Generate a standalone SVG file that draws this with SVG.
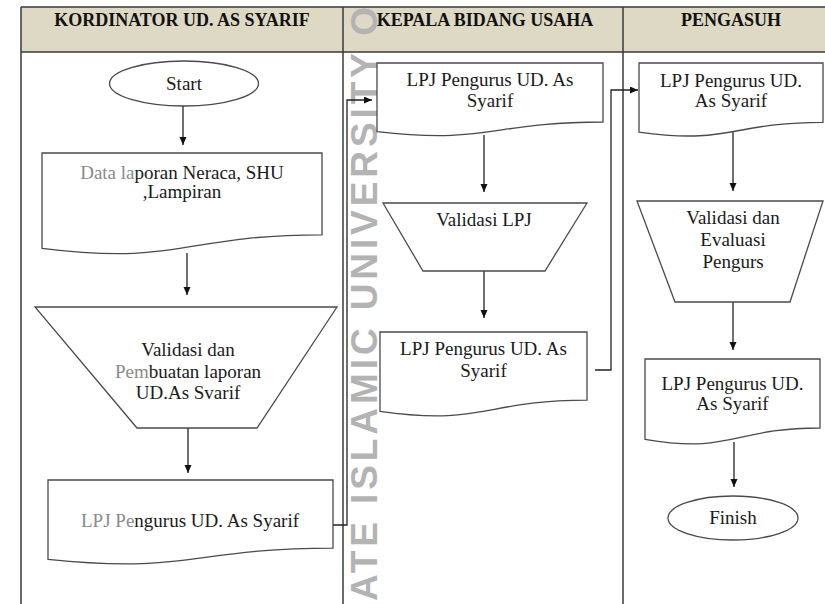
<svg xmlns="http://www.w3.org/2000/svg" width="825" height="604" viewBox="0 0 825 604">
<defs>
<marker id="ah" markerUnits="userSpaceOnUse" markerWidth="9" markerHeight="8" refX="8" refY="3.5" orient="auto">
<path d="M0,0 L8,3.5 L0,7 Z" fill="#111"/>
</marker>
<style>
.lane{stroke:#3a3a3a;stroke-width:1.5;fill:none}
.hdr{fill:#ddd9c4}
.ht{font-family:"Liberation Serif","Times New Roman",serif;font-weight:bold;font-size:18px;fill:#111;text-anchor:middle}
.shape{fill:#fff;stroke:#4a4a4a;stroke-width:1.3}
.t{font-family:"Liberation Serif","Times New Roman",serif;font-size:19px;fill:#1a1a1a;text-anchor:middle}
.g{fill:#8a8a8a}
.conn{fill:none;stroke:#222;stroke-width:1.3}
.wm{font-family:"Liberation Sans",Arial,sans-serif;font-weight:bold;font-size:37px;fill:#b3b3b3}
</style>
</defs>
<rect width="825" height="604" fill="#fff"/>
<g id="lanes">
<rect class="hdr" x="21" y="7" width="804" height="45"/>
<path class="lane" d="M21,7 H825 M21,52 H825 M21,7 V604 M343,7 V604 M623,7 V604"/>
<text class="ht" x="182" y="26">KORDINATOR UD. AS SYARIF</text>
<text class="ht" x="485" y="26">KEPALA BIDANG USAHA</text>
<text class="ht" x="731" y="26">PENGASUH</text>
</g>
<g id="watermark">
<text class="wm" transform="translate(377,601) rotate(-90)" textLength="594" lengthAdjust="spacing">ATE ISLAMIC UNIVERSITY O</text>
</g>
<g id="connectors">
<path class="conn" d="M183,106 V145" marker-end="url(#ah)"/>
<path class="conn" d="M187,253 V295" marker-end="url(#ah)"/>
<path class="conn" d="M188,428 V473" marker-end="url(#ah)"/>
<path class="conn" d="M333,525 H347 V100 H372" marker-end="url(#ah)"/>
<path class="conn" d="M484,135 V192" marker-end="url(#ah)"/>
<path class="conn" d="M484,271 V318" marker-end="url(#ah)"/>
<path class="conn" d="M595,370 H611 V90 H638" marker-end="url(#ah)"/>
<path class="conn" d="M733,132 V191" marker-end="url(#ah)"/>
<path class="conn" d="M733,302 V350" marker-end="url(#ah)"/>
<path class="conn" d="M734,442 V487" marker-end="url(#ah)"/>
</g>
<g id="start">
<ellipse class="shape" cx="184" cy="83.5" rx="74.5" ry="22.5"/>
<text class="t" x="184" y="90">Start</text>
</g>
<g id="data-laporan">
<path class="shape" d="M42,153 H322 V234.8 C182,234.8 182,265.9 42,248.3 Z"/>
<text class="t" x="182" y="179"><tspan class="g">Data la</tspan>poran Neraca, SHU</text>
<text class="t" x="182" y="198">,Lampiran</text>
</g>
<g id="validasi-pembuatan">
<path class="shape" d="M35,307 H337 L257,428 H137 Z"/>
<text class="t" x="188" y="356">Validasi dan</text>
<text class="t" x="188" y="378"><tspan class="g">Pem</tspan>buatan laporan</text>
<text class="t" x="188" y="399">UD.As Svarif</text>
</g>
<g id="lpj-kordinator">
<path class="shape" d="M48,480 H333 V548.2 C190.5,548.2 190.5,574.1 48,559.4 Z"/>
<text class="t" x="190" y="527"><tspan class="g">LPJ Pe</tspan>ngurus UD. As Syarif</text>
</g>
<g id="lpj-kepala-1">
<path class="shape" d="M377,63 H603 V122 C490,122 490,144.5 377,131.7 Z"/>
<text class="t" x="490" y="86">LPJ Pengurus UD. As</text>
<text class="t" x="490" y="107">Syarif</text>
</g>
<g id="validasi-lpj">
<path class="shape" d="M383,203 H587 L545,271 H423 Z"/>
<text class="t" x="484" y="226">Validasi LPJ</text>
</g>
<g id="lpj-kepala-2">
<path class="shape" d="M380,332 H587 V400.2 C483.5,400.2 483.5,426.1 380,411.4 Z"/>
<text class="t" x="483.5" y="355">LPJ Pengurus UD. As</text>
<text class="t" x="483.5" y="377">Syarif</text>
</g>
<g id="lpj-pengasuh-1">
<path class="shape" d="M639,63 H823 V122.3 C731,122.3 731,144.9 639,132.1 Z"/>
<text class="t" x="731" y="87">LPJ Pengurus UD.</text>
<text class="t" x="731" y="107">As Syarif</text>
</g>
<g id="validasi-evaluasi">
<path class="shape" d="M637,201 H823 L790,302 H675 Z"/>
<text class="t" x="733" y="224">Validasi dan</text>
<text class="t" x="733" y="246">Evaluasi</text>
<text class="t" x="733" y="268">Pengurs</text>
</g>
<g id="lpj-pengasuh-2">
<path class="shape" d="M645,359 H820 V428 C732.5,428 732.5,454.2 645,439.3 Z"/>
<text class="t" x="732.5" y="390">LPJ Pengurus UD.</text>
<text class="t" x="732.5" y="410">As Syarif</text>
</g>
<g id="finish">
<ellipse class="shape" cx="733" cy="518" rx="65" ry="22"/>
<text class="t" x="733" y="524">Finish</text>
</g>
</svg>
